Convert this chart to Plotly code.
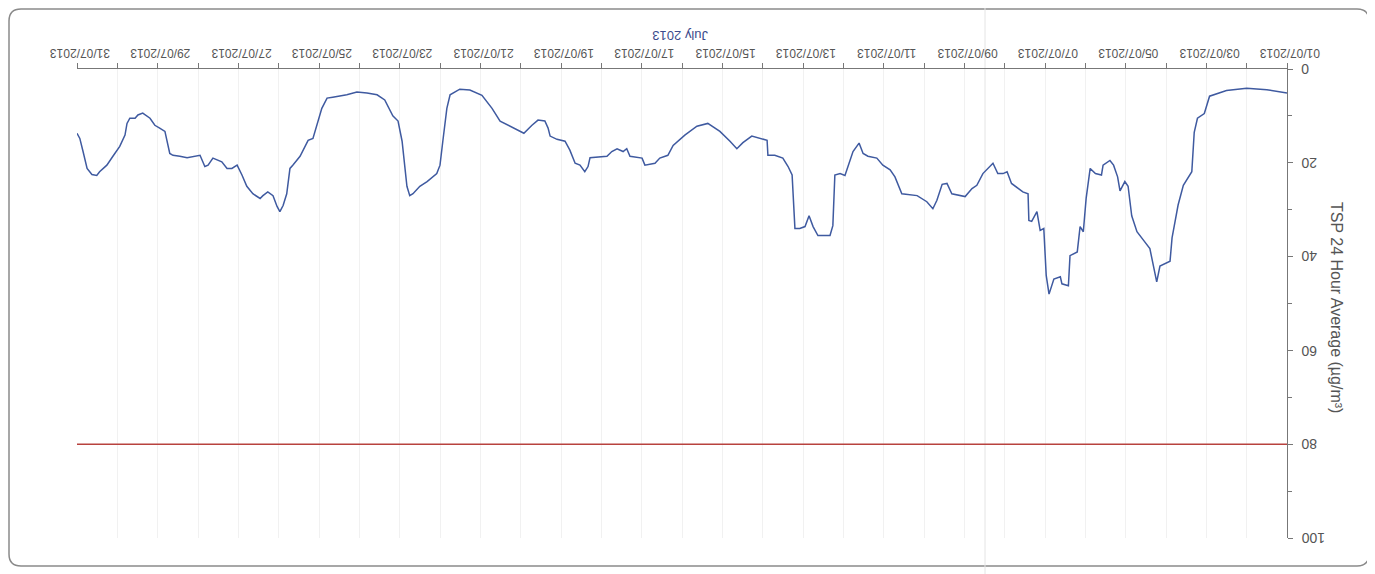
import pandas as pd
import plotly.graph_objects as go

# ---- data (chart is shown rotated 180 degrees) ----
start_date = "2013-07-01"
end_date = "2013-07-31"

elapsed_days = [
    0.00, 0.50, 1.00, 1.50, 1.92, 2.05, 2.22, 2.30, 2.36, 2.50, 2.57, 2.70, 2.85, 2.90,
    3.05, 3.15, 3.23, 3.30, 3.40, 3.55, 3.72, 3.85, 3.94, 4.02, 4.14, 4.20, 4.30, 4.39,
    4.56, 4.60, 4.75, 4.88, 4.98, 5.05, 5.13, 5.20, 5.38, 5.42, 5.58, 5.62, 5.78, 5.90,
    5.97, 6.03, 6.12, 6.20, 6.33, 6.40, 6.42, 6.55, 6.67, 6.83, 6.94, 7.04, 7.17, 7.29,
    7.54, 7.69, 7.81, 7.98, 8.31, 8.43, 8.55, 8.68, 8.78, 8.93, 9.17, 9.42, 9.55, 9.72,
    9.84, 10.02, 10.17, 10.39, 10.51, 10.61, 10.76, 10.96, 11.08, 11.21, 11.26, 11.33,
    11.63, 11.75, 11.85, 11.95, 12.08, 12.20, 12.27, 12.37, 12.50, 12.70, 12.87, 12.89,
    12.99, 13.27, 13.49, 13.64, 13.81, 14.06, 14.36, 14.63, 14.93, 15.22, 15.35, 15.55,
    15.67, 15.92, 15.99, 16.29, 16.37, 16.46, 16.61, 16.74, 16.86, 17.28, 17.33, 17.41,
    17.53, 17.65, 17.78, 17.90, 18.10, 18.27, 18.32, 18.40, 18.57, 18.72, 18.92, 19.27,
    19.51, 19.71, 19.96, 20.26, 20.51, 20.75, 20.83, 20.93, 21.00, 21.08, 21.32, 21.50,
    21.67, 21.75, 21.82, 21.94, 22.04, 22.17, 22.37, 22.56, 22.81, 23.06, 23.31, 23.66,
    23.80, 23.93, 24.05, 24.15, 24.27, 24.35, 24.47, 24.65, 24.72, 24.80, 24.89, 24.97,
    25.04, 25.14, 25.27, 25.39, 25.46, 25.64, 25.79, 25.91, 26.03, 26.16, 26.28, 26.41,
    26.63, 26.75, 26.83, 26.95, 27.13, 27.27, 27.45, 27.62, 27.70, 27.77, 27.82, 27.95,
    28.07, 28.19, 28.37, 28.49, 28.56, 28.69, 28.76, 28.81, 28.94, 29.11, 29.26, 29.44,
    29.51, 29.63, 29.75, 29.85, 29.93, 30.00,
]

tsp_avg = [
    5.1, 4.4, 4.1, 4.6, 5.8, 9.5, 10.5, 13.5, 21.9, 24.0, 24.8, 29.0, 36.0, 41.0,
    41.5, 42.0, 45.4, 42.6, 38.3, 36.6, 34.7, 31.3, 25.0, 24.0, 26.0, 23.0, 20.5, 19.5,
    20.5, 22.6, 22.3, 21.2, 27.6, 34.7, 33.6, 39.0, 39.8, 46.2, 45.8, 44.3, 44.8, 48.0,
    44.0, 34.0, 34.4, 30.4, 32.5, 32.3, 26.6, 26.2, 25.5, 24.4, 21.9, 22.3, 22.3, 20.1,
    22.3, 24.8, 25.5, 27.2, 26.6, 24.4, 24.6, 28.0, 29.8, 28.3, 27.0, 26.8, 26.6, 23.0,
    21.5, 20.5, 19.0, 18.6, 18.0, 15.8, 17.6, 22.7, 22.3, 22.6, 33.4, 35.5,
    35.5, 33.6, 31.3, 33.6, 34.0, 34.0, 22.6, 20.8, 19.0, 18.4, 18.4, 15.2,
    15.0, 14.3, 15.7, 17.0, 15.4, 13.3, 11.6, 12.2, 14.1, 16.3, 18.4, 19.0,
    20.1, 20.5, 19.0, 18.6, 17.0, 17.6, 17.0, 17.6, 18.6, 18.9, 20.8, 21.9,
    20.5, 20.1, 17.3, 15.4, 15.0, 14.3, 12.6, 11.1, 10.9, 12.0, 13.7, 12.2,
    11.1, 8.4, 5.6, 4.5, 4.3, 5.5, 8.4, 15.4, 20.5, 22.3, 24.0, 25.0,
    26.6, 27.0, 25.0, 15.4, 11.1, 10.0, 6.6, 5.5, 5.1, 4.9, 5.5, 6.0,
    6.2, 8.4, 12.0, 14.8, 15.2, 16.5, 18.6, 20.5, 21.2, 26.6, 29.1, 30.4,
    29.3, 27.0, 26.2, 27.0, 27.6, 26.6, 25.0, 22.6, 20.5, 21.2, 21.2, 19.8,
    19.0, 20.5, 20.8, 18.4, 18.6, 18.9, 18.6, 18.4, 18.0, 14.8, 13.3, 12.6,
    12.0, 10.5, 9.4, 9.8, 10.5, 10.5, 11.6, 14.1, 16.5, 18.6, 20.5, 21.9,
    22.7, 22.5, 21.2, 17.6, 14.8, 13.7,
]

limit_value = 80
limit_dates = [start_date, end_date]

label_dates = list(pd.date_range("2013-07-01", "2013-07-31", freq="2D"))
y_ticks = [0, 20, 40, 60, 80, 100]

x_title = "July 2013"
y_title = "TSP 24 Hour Average (\u00b5g/m\u00b3)"

# ---- figure ----
times = pd.Timestamp(start_date) + pd.to_timedelta(elapsed_days, unit="D")

OFF = 8                      # page offset of the plot div (body margin)
W, H = 1375 - OFF, 574 - OFF
L, T = 77 - OFF, 69 - OFF     # plot area top-left in page px
RIGHT, BOTTOM = 1287 - OFF, 538 - OFF
R, B = W - RIGHT, H - BOTTOM
pw, ph = RIGHT - L, BOTTOM - T

def px_x(p):
    """page pixel x -> paper fraction"""
    return (p - OFF - L) / pw

def px_y(p):
    """page pixel y -> paper fraction"""
    return (BOTTOM - (p - OFF)) / ph

font_family = "Liberation Sans, Arial, sans-serif"
tick_color = "#555"

fig = go.Figure()
fig.add_trace(go.Scatter(
    x=limit_dates, y=[limit_value, limit_value], mode="lines",
    line=dict(color="#b8423e", width=1.6), hoverinfo="skip", showlegend=False,
))
fig.add_trace(go.Scatter(
    x=times, y=tsp_avg, mode="lines",
    line=dict(color="#3f5aa0", width=1.5), showlegend=False,
))

fig.update_xaxes(
    type="date", range=[end_date, start_date], side="top",
    tickvals=label_dates, showticklabels=False,
    ticks="outside", ticklen=5, tickcolor="#777",
    showline=True, linecolor="#777", linewidth=1.2,
    showgrid=True, gridcolor="#f1f1f1", gridwidth=1,
    minor=dict(dtick=86400000, ticks="outside", ticklen=5, tickcolor="#777",
               showgrid=True, gridcolor="#f1f1f1"),
    zeroline=False,
)
fig.update_yaxes(
    range=[100, 0], side="right",
    tickvals=y_ticks, showticklabels=False,
    ticks="outside", ticklen=5, tickcolor="#777",
    minor=dict(dtick=10, ticks="outside", ticklen=4, tickcolor="#777"),
    showline=True, linecolor="#777", linewidth=1.2,
    showgrid=False, zeroline=False,
)

annotations = []
# upside-down date labels on the top axis
for d in label_dates:
    annotations.append(dict(
        text=d.strftime("%d/%m/%Y"), xref="x", yref="paper", x=d, y=px_y(53),
        xanchor="center", yanchor="middle", xshift=3, showarrow=False,
        textangle=180, font=dict(size=12, color=tick_color, family=font_family)))
# upside-down value labels on the right axis
for v in y_ticks:
    annotations.append(dict(
        text=str(v), xref="paper", yref="y", x=px_x(1299), y=v,
        xanchor="left", yanchor="middle", showarrow=False,
        textangle=180, font=dict(size=14, color=tick_color, family=font_family)))
annotations.append(dict(
    text=x_title, xref="paper", yref="paper", x=px_x(680), y=px_y(35),
    xanchor="center", yanchor="middle", showarrow=False, textangle=180,
    font=dict(size=13, color="#3c4b8c", family=font_family)))
annotations.append(dict(
    text=y_title, xref="paper", yref="paper", x=px_x(1337), y=px_y(307),
    xanchor="center", yanchor="middle", showarrow=False, textangle=90,
    font=dict(size=16, color=tick_color, family=font_family)))

r = 12
x0, x1 = px_x(9), px_x(1369)
y0, y1 = px_y(9), px_y(566)
rx, ry = r / pw, r / ph
border_path = (
    f"M {x0 + rx} {y0} L {x1 - rx} {y0} Q {x1} {y0} {x1} {y0 - ry} "
    f"L {x1} {y1 + ry} Q {x1} {y1} {x1 - rx} {y1} "
    f"L {x0 + rx} {y1} Q {x0} {y1} {x0} {y1 + ry} "
    f"L {x0} {y0 - ry} Q {x0} {y0} {x0 + rx} {y0} Z"
)

fig.update_layout(
    width=W, height=H,
    margin=dict(l=L, r=R, t=T, b=B),
    paper_bgcolor="white", plot_bgcolor="white",
    font=dict(family=font_family),
    shapes=[
        dict(type="path", xref="paper", yref="paper", path=border_path,
             line=dict(color="#8a8a8a", width=1.5), layer="below"),
        dict(type="line", xref="paper", yref="paper",
             x0=px_x(985), x1=px_x(985), y0=px_y(8), y1=px_y(574),
             line=dict(color="#e4e4e4", width=1), layer="below"),
    ],
    annotations=annotations,
)

fig.write_html("out.html")
